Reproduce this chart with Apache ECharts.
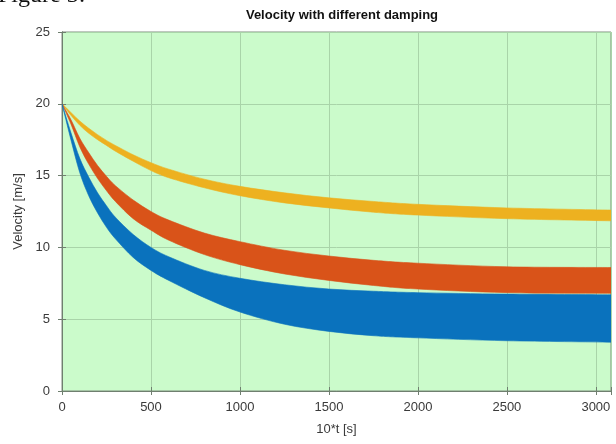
<!DOCTYPE html>
<html>
<head>
<meta charset="utf-8">
<script src="https://cdn.jsdelivr.net/npm/echarts@6/dist/echarts.min.js"></script>
<style>
  html, body { margin: 0; padding: 0; background: #fff; }
  #chart { width: 616px; height: 444px; }
</style>
</head>
<body>
<div id="chart"></div>
<script>
  // x positions (10*t) where the band edges were read
  var xs = [0, 50, 100, 150, 200, 250, 300, 400, 500, 600, 800, 1000, 1250, 1500, 1750, 2000, 2500, 3085]

  // yellow band (weakest damping)
  var yellowTop = [20, 19.4, 18.8, 18.3, 17.85, 17.45, 17.1, 16.45, 15.9, 15.45, 14.75, 14.25, 13.8, 13.45, 13.2, 13.0, 12.75, 12.6]
  var yellowBot = [20, 19.2, 18.5, 17.95, 17.5, 17.1, 16.7, 16.0, 15.35, 14.85, 14.15, 13.6, 13.1, 12.75, 12.45, 12.25, 12.0, 11.85]
  // orange band
  var orangeTop = [20, 18.9, 17.6, 16.6, 15.7, 14.95, 14.3, 13.3, 12.5, 11.9, 11.0, 10.4, 9.8, 9.4, 9.1, 8.9, 8.65, 8.6]
  var orangeBot = [20, 18.6, 17.0, 15.8, 14.8, 13.95, 13.2, 12.0, 11.2, 10.5, 9.5, 8.8, 8.15, 7.7, 7.35, 7.1, 6.85, 6.8]
  // blue band (strongest damping)
  var blueTop = [20, 18.0, 16.2, 14.9, 13.8, 12.9, 12.1, 10.9, 10.0, 9.35, 8.4, 7.85, 7.4, 7.1, 6.95, 6.85, 6.75, 6.7]
  var blueBot = [20, 17.5, 15.2, 13.6, 12.4, 11.4, 10.6, 9.3, 8.4, 7.7, 6.5, 5.5, 4.65, 4.15, 3.85, 3.7, 3.5, 3.4]

  var yTicks = [0, 5, 10, 15, 20, 25]
  var xTicks = [0, 500, 1000, 1500, 2000, 2500, 3000]

  var txt = '#3a3a3a'
  var font = 'Liberation Sans'

  // catmull-rom through pixel points, as bezier path commands
  function curve(p) {
    var s = ''
    for (var i = 0; i < p.length - 1; i++) {
      var a = p[i - 1] || p[i], b = p[i], c = p[i + 1], d = p[i + 2] || p[i + 1]
      var c1 = [b[0] + (c[0] - a[0]) / 6, b[1] + (c[1] - a[1]) / 6]
      var c2 = [c[0] - (d[0] - b[0]) / 6, c[1] - (d[1] - b[1]) / 6]
      s += ' C' + c1[0] + ',' + c1[1] + ' ' + c2[0] + ',' + c2[1] + ' ' + c[0] + ',' + c[1]
    }
    return s
  }

  // a band is drawn once as a filled path: top edge forward, bottom edge back
  function band(name, top, bot, color, z) {
    return {
      name: name, type: 'custom', z: z, silent: true, clip: true,
      data: xs.map(function (x, i) { return [x, top[i], bot[i]] }),
      encode: { x: 0, y: [1, 2] },
      renderItem: function (params, api) {
        if (params.dataIndex !== 0) return null
        var up = xs.map(function (x, i) { return api.coord([x, top[i]]) })
        var dn = xs.map(function (x, i) { return api.coord([x, bot[i]]) }).reverse()
        var d = 'M' + up[0][0] + ',' + up[0][1] + curve(up) +
          ' L' + dn[0][0] + ',' + dn[0][1] + curve(dn) + ' Z'
        return {
          type: 'path',
          shape: { pathData: d },
          style: { fill: color, stroke: color, lineWidth: 0.6 }
        }
      }
    }
  }

  var chart = echarts.init(document.getElementById('chart'))
  var option = {
    animation: false,
    textStyle: { fontFamily: font },
    title: {
      text: 'Velocity with different damping',
      left: 337, top: 4, textAlign: 'center',
      textStyle: { fontSize: 13, fontWeight: 'bold', color: '#111', fontFamily: font }
    },
    graphic: [{
      type: 'text', left: -2, top: -16,
      style: { text: 'Figure 3:', font: '24px "Liberation Serif"', fill: '#111' }
    }],
    grid: {
      left: 62, right: 5, top: 32, bottom: 53,
      show: true, backgroundColor: '#cbfbcb', borderColor: '#7f8f7f', borderWidth: 1
    },
    xAxis: [{
      type: 'value', min: 0, max: 3085, interval: 500,
      name: '10*t [s]', nameLocation: 'middle', nameGap: 32,
      nameTextStyle: { fontSize: 13, color: txt },
      axisLine: { show: true, lineStyle: { color: '#6f7f6f' } },
      axisTick: { show: true, inside: true, length: 4, lineStyle: { color: '#6f7f6f' } },
      axisLabel: { fontSize: 13, color: txt, margin: 10,
        formatter: function (v) { return xTicks.indexOf(v) >= 0 ? String(v) : '' } },
      splitLine: { show: true, lineStyle: { color: '#a9d4a9', width: 1 } }
    }, {
      type: 'value', position: 'top', min: 0, max: 3085, interval: 500,
      axisLine: { show: true, lineStyle: { color: '#6f7f6f' } },
      axisTick: { show: true, inside: true, length: 4, lineStyle: { color: '#6f7f6f' } },
      axisLabel: { show: false }, splitLine: { show: false }
    }],
    yAxis: [{
      type: 'value', min: 0, max: 25, interval: 5,
      name: 'Velocity [m/s]', nameLocation: 'middle', nameGap: 32, nameRotate: 90,
      nameTextStyle: { fontSize: 13, color: txt },
      axisLine: { show: true, lineStyle: { color: '#6f7f6f' } },
      axisTick: { show: true, inside: true, length: 4, lineStyle: { color: '#6f7f6f' } },
      axisLabel: { fontSize: 13, color: txt, margin: 12,
        formatter: function (v) { return yTicks.indexOf(v) >= 0 ? String(v) : '' } },
      splitLine: { show: true, lineStyle: { color: '#a9d4a9', width: 1 } }
    }, {
      type: 'value', position: 'right', min: 0, max: 25, interval: 5,
      axisLine: { show: true, lineStyle: { color: '#6f7f6f' } },
      axisTick: { show: true, inside: true, length: 4, lineStyle: { color: '#6f7f6f' } },
      axisLabel: { show: false }, splitLine: { show: false }
    }],
    series: [
      band('yellow', yellowTop, yellowBot, '#edb120', 3),
      band('orange', orangeTop, orangeBot, '#d95319', 4),
      band('blue', blueTop, blueBot, '#0a72bd', 5)
    ]
  }
  chart.setOption(option)
</script>
</body>
</html>
